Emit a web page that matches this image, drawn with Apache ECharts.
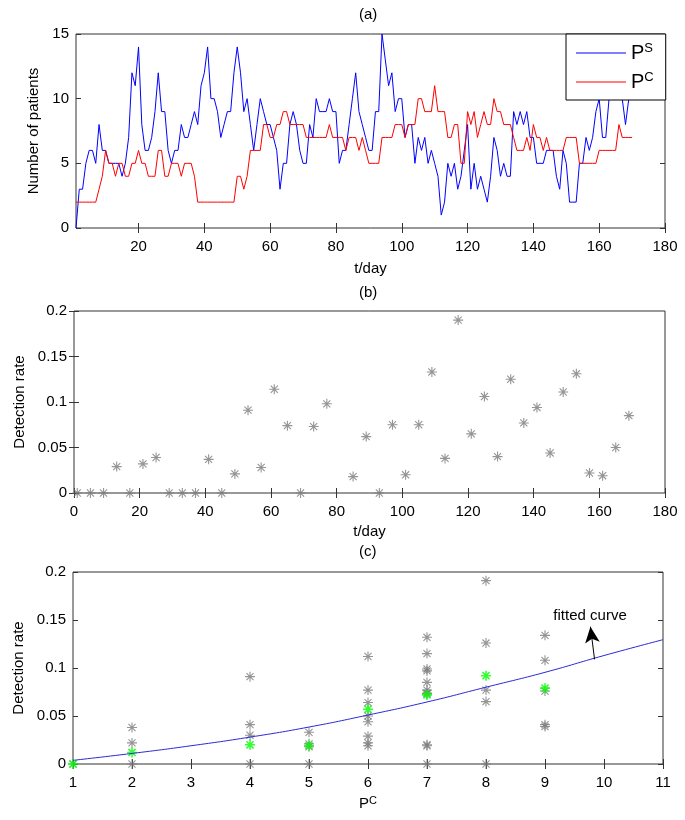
<!DOCTYPE html>
<html><head><meta charset="utf-8">
<script src="https://cdn.jsdelivr.net/npm/echarts@6/dist/echarts.min.js"></script>
<style>html,body{margin:0;padding:0;background:#fff}#c{width:685px;height:820px}</style>
</head><body><div id="c"></div>
<script>
const FONT = "'Liberation Sans', Arial, Helvetica, sans-serif";
// Panel (a): daily counts, first day = 1
const dayStart = 1;
const PS = [0,3,3,5,6,6,5,8,6,6, 5,5,5,5,4,5,7,12,11,14, 8,6,6,7,9,12,9,9,6,5,
  6,6,8,7,7,8,9,8,11,12, 14,10,10,9,7,8,9,9,12,14, 12,9,10,8,6,8,10,9,8,8,
  7,6,3,5,5,8,9,8,6,5, 5,8,7,10,9,9,9,10,9,9, 5,6,6,8,10,12,9,8,7,6,
  6,9,9,15,13,11,12,9,10,10, 7,8,8,5,7,6,7,5,6,5, 4,1,2,5,4,5,3,4,6,8,
  3,5,3,4,3,2,4,7,6,4, 5,4,4,9,8,9,8,9,7,7, 5,5,5,6,6,6,4,3,6,5,
  2,2,2,5,5,7,6,7,9,10, 7,7,10,12,11,13,10,8,10,12];
const PCd = [2,2,2,2,2,2,2,3,4,6, 5,5,4,5,5,4,4,5,5,6, 5,5,4,4,4,6,6,4,4,5,
  5,5,4,5,5,5,4,2,2,2, 2,2,2,2,2,2,2,2,2,4, 4,3,4,6,6,6,6,8,8,7,
  7,8,8,9,9,8,8,8,8,8, 7,7,7,7,7,7,7,8,7,7, 7,7,6,7,7,7,6,7,6,5,
  5,5,5,7,7,7,7,8,8,8, 7,8,8,8,10,10,9,9,9,11, 9,9,9,7,7,8,8,5,5,9,
  8,9,7,8,9,8,8,10,9,9, 8,8,8,7,6,6,6,7,6,8, 7,7,6,7,6,6,6,6,6,7,
  7,7,7,5,5,5,5,5,5,6, 6,6,6,6,6,8,7,7,7,7];
const ticksA = [20,40,60,80,100,120,140,160,180];
// Panel (b)
const tB = [1,5,9,13,17,21,25,29,33,37,41,45,49,53,57,61,65,69,73,77,85,89,93,97,101,105,109,113,117,121,125,129,133,137,141,145,149,153,157,161,165,169];
const rateB = [0,0,0,0.029,0,0.032,0.039,0,0,0,0.037,0,0.021,0.091,0.028,0.114,0.074,0,0.073,0.098,0.018,0.062,0,0.075,0.02,0.075,0.133,0.038,0.19,0.065,0.106,0.04,0.125,0.077,0.094,0.044,0.111,0.131,0.022,0.019,0.05,0.085];
// Panel (c)
const pcC = [1,2,2,2,4,4,4,4,5,5,5,5,6,6,6,6,6,6,6,6,7,7,7,7,7,7,7,7,7,7,7,8,8,8,8,8,9,9,9,9,9];
const rateC = [0,0.038,0.022,0,0.091,0.041,0.030,0,0.033,0.021,0.018,0,0.112,0.077,0.064,0.050,0.044,0.029,0.022,0.019,
  0.132,0.115,0.099,0.097,0.085,0.077,0.074,0.073,0.020,0.019,0,0.191,0.126,0.077,0.065,0,0.134,0.108,0.076,0.041,0.039];
const pcMean = [1,2,4,5,6,7,8,9];
const rateMean = [0,0.012,0.020,0.019,0.057,0.072,0.092,0.079];
const fitX = [1,2,3,4,5,6,7,8,9,10,11];
const fitY = [0.0038,0.011,0.019,0.028,0.0385,0.051,0.0646,0.080,0.0955,0.113,0.1295];
const arrowFrom = [9.84,0.109], arrowTo = [9.77,0.143];

const pair = (xs, ys) => ys.map((v, i) => [xs[i], v]);
const daily = ys => ys.map((v, i) => [dayStart + i, v]);

const FRAME = '#333';
const STAR = 'path://M5 0V10M0 5H10M1.46 1.46L8.54 8.54M1.46 8.54L8.54 1.46';

function ax(gridIndex, pos, min, max, interval, showLabel, extra) {
  const o = {
    type: 'value', gridIndex, position: pos, min, max,
    axisLine: {show: false}, splitLine: {show: false},
    axisTick: {show: true, inside: true, length: 5, lineStyle: {color: FRAME, width: 1}},
    axisLabel: {show: showLabel, color: '#000', fontSize: 15, fontFamily: FONT, margin: (pos === 'bottom') ? 11 : 7},
    nameTextStyle: {color: '#000', fontSize: 15, fontFamily: FONT}
  };
  if (interval != null) o.interval = interval;
  return Object.assign(o, extra || {});
}
const custA = {axisTick: {show: true, inside: true, length: 5, lineStyle: {color: FRAME}, customValues: ticksA}};

const xAxis = [
  Object.assign(ax(0,'bottom',1,180,null,true,{name:'t/day', nameLocation:'middle', nameGap:33}), {
    axisTick: {show:true, inside:true, length:5, lineStyle:{color:FRAME}, customValues: ticksA},
    axisLabel: {show:true, color:'#000', fontSize:15, fontFamily:FONT, margin:11, customValues: ticksA}}),
  Object.assign(ax(0,'top',1,180,null,false), custA),
  ax(1,'bottom',0,180,20,true,{name:'t/day', nameLocation:'middle', nameGap:31}),
  ax(1,'top',0,180,20,false),
  ax(2,'bottom',1,11,1,true,{name:'{p|P}{s|C}', nameLocation:'middle', nameGap:31,
     nameTextStyle:{color:'#000', fontFamily:FONT, rich:{p:{fontSize:15, fontFamily:FONT, color:'#000', lineHeight:18}, s:{fontSize:11, fontFamily:FONT, color:'#000', verticalAlign:'top', lineHeight:12}}}}),
  ax(2,'top',1,11,1,false)
];
const yAxis = [
  ax(0,'left',0,15,5,true,{name:'Number of patients', nameLocation:'middle', nameGap:33}),
  ax(0,'right',0,15,5,false),
  ax(1,'left',0,0.2,0.05,true,{name:'Detection rate', nameLocation:'middle', nameGap:43}),
  ax(1,'right',0,0.2,0.05,false),
  ax(2,'left',0,0.2,0.05,true,{name:'Detection rate', nameLocation:'middle', nameGap:43}),
  ax(2,'right',0,0.2,0.05,false)
];

const gridCommon = {show: true, borderColor: FRAME, borderWidth: 1, backgroundColor: 'transparent'};
const option = {
  animation: false,
  backgroundColor: '#fff',
  textStyle: {fontFamily: FONT},
  grid: [
    Object.assign({left: 76, right: 20, top: 34, height: 194}, gridCommon),
    Object.assign({left: 74, right: 20, top: 311, height: 182}, gridCommon),
    Object.assign({left: 73, right: 22, top: 572, height: 192}, gridCommon)
  ],
  xAxis, yAxis,
  legend: {
    data: [{name: 'PS', icon: 'rect'}, {name: 'PC', icon: 'rect'}], orient: 'vertical', left: 566, top: 34,
    backgroundColor: '#fff', borderColor: '#000', borderWidth: 1,
    padding: [8, 12, 8, 10], itemGap: 8, itemWidth: 50, itemHeight: 1,
    formatter: n => n === 'PS' ? '{p|P}{s|S}' : '{p|P}{s|C}',
    textStyle: {color: '#000', fontFamily: FONT, rich: {
      p: {fontSize: 20, fontFamily: FONT, color: '#000', lineHeight: 22},
      s: {fontSize: 13, fontFamily: FONT, color: '#000', verticalAlign: 'top', lineHeight: 13}
    }}
  },
  graphic: [
    {type: 'text', left: 359, top: 7, style: {text: '(a)', font: '15px ' + FONT, fill: '#000'}},
    {type: 'text', left: 359, top: 285, style: {text: '(b)', font: '15px ' + FONT, fill: '#000'}},
    {type: 'text', left: 359, top: 544, style: {text: '(c)', font: '15px ' + FONT, fill: '#000'}}
  ],
  series: [
    {name: 'PS', type: 'line', xAxisIndex: 0, yAxisIndex: 0, data: daily(PS), symbol: 'none',
     lineStyle: {color: '#0000ff', width: 1}, itemStyle: {color: '#0000ff'}},
    {name: 'PC', type: 'line', xAxisIndex: 0, yAxisIndex: 0, data: daily(PCd), symbol: 'none',
     lineStyle: {color: '#ff0000', width: 1}, itemStyle: {color: '#ff0000'}},
    {name: 'rateB', type: 'scatter', xAxisIndex: 2, yAxisIndex: 2, data: pair(tB, rateB),
     symbol: STAR, symbolSize: 10, itemStyle: {color: 'transparent', borderColor: '#7a7a7a', borderWidth: 1.1}},
    {name: 'rateC', type: 'scatter', xAxisIndex: 4, yAxisIndex: 4, data: pair(pcC, rateC),
     symbol: STAR, symbolSize: 10, itemStyle: {color: 'transparent', borderColor: '#7a7a7a', borderWidth: 1.1}},
    {name: 'mean', type: 'scatter', xAxisIndex: 4, yAxisIndex: 4, data: pair(pcMean, rateMean),
     symbol: STAR, symbolSize: 10, itemStyle: {color: 'transparent', borderColor: '#00ff00', borderWidth: 1.6}, z: 3},
    {name: 'fit', type: 'line', xAxisIndex: 4, yAxisIndex: 4, data: pair(fitX, fitY), smooth: true,
     symbol: 'none', lineStyle: {color: '#2a2ad8', width: 1}, z: 4,
     markLine: {silent: true, symbol: ['none', 'arrow'], symbolSize: [11, 16],
       lineStyle: {color: '#000', width: 1, type: 'solid'},
       label: {show: true, position: 'end', formatter: 'fitted curve', color: '#000', fontSize: 15, fontFamily: FONT, distance: 3},
       data: [[{coord: arrowFrom}, {coord: arrowTo}]]}}
  ]
};
const chart = echarts.init(document.getElementById('c'));
chart.setOption(option);
</script></body></html>
